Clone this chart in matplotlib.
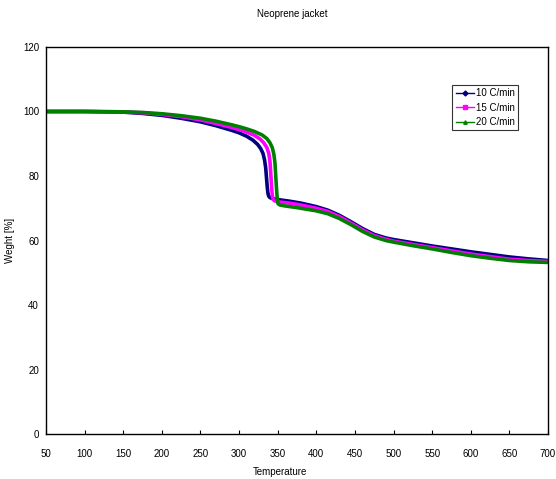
import matplotlib
matplotlib.use("Agg")
import matplotlib.pyplot as plt
from matplotlib.lines import Line2D

plt.rcParams['font.family'] = ['Liberation Sans', 'DejaVu Sans']

t10 = [50, 100, 150, 175, 200, 225, 250, 270, 290, 300, 310, 318, 324, 328, 331, 333, 334.5, 335.5, 336.5, 337.5, 338.5, 340, 343, 350, 365, 380, 400, 415, 430, 445, 460, 475, 490, 500, 525, 550, 575, 600, 625, 650, 675, 700]
w10 = [100, 100, 99.8, 99.4, 98.8, 97.9, 96.8, 95.6, 94.2, 93.4, 92.3, 91.1, 89.8, 88.5, 87.0, 85.0, 82.5, 79.5, 76.5, 74.5, 73.7, 73.3, 73.0, 72.7, 72.2, 71.6, 70.5, 69.4, 67.8, 65.8, 63.7, 61.9, 60.8, 60.3, 59.3, 58.3, 57.4, 56.5, 55.7, 54.9, 54.3, 53.8]

t15 = [50, 100, 150, 175, 200, 225, 250, 270, 290, 300, 310, 320, 327, 332, 336, 338.5, 340, 341, 342, 343, 344, 346, 350, 365, 380, 400, 415, 430, 445, 460, 475, 490, 500, 525, 550, 575, 600, 625, 650, 675, 700]
w15 = [100, 100, 99.9, 99.6, 99.1, 98.4, 97.4, 96.3, 95.1, 94.4, 93.6, 92.6, 91.5, 90.3, 88.8, 87.0, 84.5, 81.0, 77.0, 74.0, 72.8, 72.3, 72.0, 71.6, 71.0, 70.0, 69.0, 67.4, 65.4, 63.3, 61.5, 60.4, 59.8, 58.8, 57.8, 56.8, 55.8, 55.0, 54.2, 53.8, 53.5]

t20 = [50, 100, 150, 175, 200, 225, 250, 270, 290, 300, 310, 320, 330, 336, 340, 343, 345, 346.5, 347.5, 348.5, 349.5, 350.5, 353, 360, 375, 390, 400, 415, 430, 445, 460, 475, 490, 500, 525, 550, 575, 600, 625, 650, 675, 700]
w20 = [100, 100, 99.9, 99.7, 99.3, 98.7, 97.9, 97.0, 95.9, 95.3, 94.6, 93.8, 92.7, 91.6, 90.3, 88.8, 86.8, 84.0, 80.0, 76.0, 72.8, 71.4, 71.0, 70.7, 70.2, 69.6, 69.2, 68.3, 66.8, 64.9, 62.8, 61.1, 60.0, 59.5, 58.4, 57.4, 56.3, 55.3, 54.5, 53.8, 53.4, 53.2]

labels = ['10 C/min', '15 C/min', '20 C/min']
colors = ['#000080', '#FF00FF', '#008000']
markers = ['D', 's', '^']

xticks = list(range(50, 701, 50))
yticks = list(range(0, 121, 20))

fig = plt.figure(figsize=(5.56, 4.79), dpi=100)
ax = fig.add_axes([0.0827, 0.0939, 0.9029, 0.808])

for t, w, lab, c in zip([t10, t15, t20], [w10, w15, w20], labels, colors):
    ax.plot(t, w, color=c, lw=2.6, label=lab, solid_joinstyle='round')

handles = [Line2D([], [], color=c, lw=1, marker=m, markersize=2.5) for c, m in zip(colors, markers)]
leg = ax.legend(handles, labels, loc='upper left', bbox_to_anchor=(0.809, 0.902),
                frameon=True, fancybox=False, edgecolor='black', fontsize=7,
                handlelength=1.9, handletextpad=0.2, borderpad=0.35, labelspacing=0.45,
                borderaxespad=0)
leg.get_frame().set_linewidth(0.8)

ax.set_xlim(50, 700)
ax.set_ylim(0, 120)
ax.set_xticks(xticks)
ax.set_yticks(yticks)
ax.tick_params(axis='x', direction='in', length=3, labelsize=7, pad=11)
ax.tick_params(axis='y', direction='in', length=0, labelsize=7, pad=5)
for s in ax.spines.values():
    s.set_linewidth(1.0)

ax.set_xlabel('Temperature', fontsize=7)
ax.xaxis.set_label_coords(0.466, -0.085)
ax.set_ylabel('Weght [%]', fontsize=7)
ax.yaxis.set_label_coords(-0.062, 0.5)
fig.text(0.525, 0.97, 'Neoprene jacket', fontsize=7, ha='center', va='center')

fig.savefig('out.png', dpi=100)
